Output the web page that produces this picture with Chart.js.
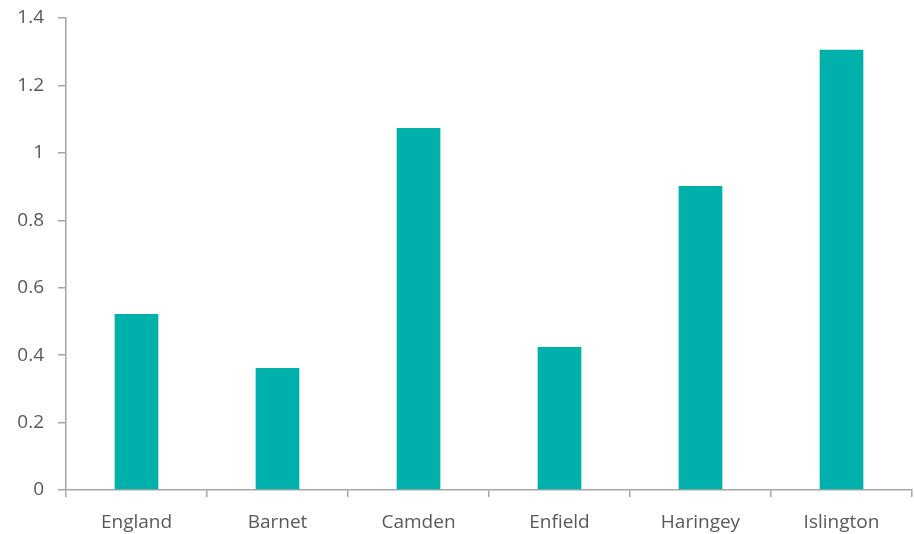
<!DOCTYPE html>
<html>
<head>
<meta charset="utf-8">
<script src="https://cdn.jsdelivr.net/npm/chart.js@4"></script>
<style>
  html, body { margin: 0; padding: 0; background: #fff; }
  #wrap { width: 914px; height: 534px; }
</style>
</head>
<body>
<div id="wrap"><canvas id="barChart"></canvas></div>
<script>
// Chart data
const areas = ["England", "Barnet", "Camden", "Enfield", "Haringey", "Islington"];
const values = [0.522, 0.362, 1.074, 0.424, 0.902, 1.306];
const yTicks = [0, 0.2, 0.4, 0.6, 0.8, 1, 1.2, 1.4];

const axisColor = "#A6A6A6";
const textColor = "#595959";

const ctx = document.getElementById("barChart").getContext("2d");
const barChart = new Chart(ctx, {
  type: "bar",
  data: {
    labels: areas,
    datasets: [
      {
        data: values,
        backgroundColor: "#00B0AA",
        categoryPercentage: 1,
        barPercentage: 0.31,
      },
    ],
  },
  options: {
    responsive: true,
    maintainAspectRatio: false,
    animation: false,
    layout: {
      padding: { top: 18, right: 2, left: 0, bottom: 0 },
    },
    plugins: {
      legend: { display: false },
      tooltip: { enabled: false },
    },
    scales: {
      y: {
        min: 0,
        max: 1.4,
        afterBuildTicks: (scale) => {
          scale.ticks = yTicks.map((v) => ({ value: v }));
        },
        afterFit: (scale) => {
          scale.width = 66;
          scale.paddingTop = 0;
          scale.paddingBottom = 0;
        },
        border: { color: axisColor, width: 1.5 },
        grid: {
          drawOnChartArea: false,
          color: axisColor,
          lineWidth: 1.5,
          tickLength: 8,
        },
        ticks: {
          color: textColor,
          padding: 14,
          font: { family: "Open Sans", size: 19 },
          callback: (v) => String(+v.toFixed(1)),
        },
      },
      x: {
        afterFit: (scale) => {
          scale.height = 44;
          scale.paddingRight = 0;
        },
        border: { color: axisColor, width: 1.5 },
        grid: {
          drawOnChartArea: false,
          color: axisColor,
          lineWidth: 1.5,
          tickLength: 7,
        },
        ticks: {
          color: textColor,
          padding: 14,
          maxRotation: 0,
          font: { family: "Open Sans", size: 19 },
        },
      },
    },
  },
});
</script>
</body>
</html>
